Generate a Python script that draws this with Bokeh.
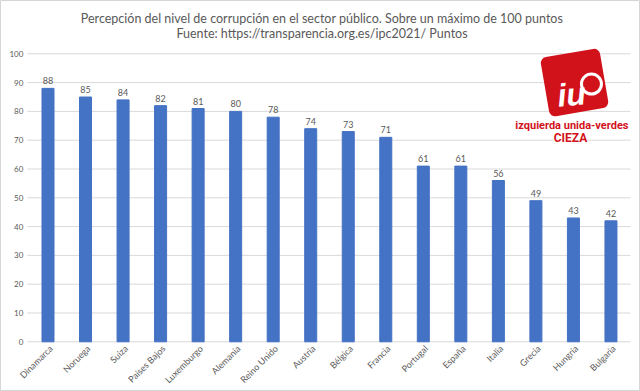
import math
from bokeh.plotting import figure
from bokeh.models import Label, ColumnDataSource, Range1d
from bokeh.core.properties import value
from bokeh.embed import file_html
from bokeh.resources import INLINE

paises = ["Dinamarca", "Noruega", "Suiza", "Países Bajos", "Luxemburgo", "Alemania",
          "Reino Unido", "Austria", "Bélgica", "Francia", "Portugal", "España",
          "Italia", "Grecia", "Hungría", "Bulgaria"]
puntos = [88, 85, 84, 82, 81, 80, 78, 74, 73, 71, 61, 61, 56, 49, 43, 42]
y_ticks = [0, 10, 20, 30, 40, 50, 60, 70, 80, 90, 100]

titulo1 = "Percepción del nivel de corrupción en el sector público. Sobre un máximo de 100 puntos"
titulo2 = "Fuente: https://transparencia.org.es/ipc2021/ Puntos"
logo_txt1 = "izquierda unida-verdes"
logo_txt2 = "CIEZA"

FONT = "Lato"
GRAY = "#595959"
BLUE = "#4472C4"
RED = "#D2121B"
COND = "Roboto"

# category positions (one slot per country)
pos = list(range(len(paises)))

p = figure(width=640, height=391, output_backend="svg", toolbar_location=None,
           x_axis_location=None, y_axis_location=None,
           x_range=Range1d(-1.2657, 15.787), y_range=Range1d(-17.26, 118.51),
           min_border=0, min_border_left=0, min_border_right=0,
           min_border_top=0, min_border_bottom=0)
p.title = None
p.xgrid.visible = False
p.ygrid.visible = False
p.outline_line_color = "#d6d6d6"

# gridlines and y tick labels
p.segment(x0=[-0.55] * len(y_ticks), x1=[15.52] * len(y_ticks), y0=y_ticks, y1=y_ticks,
          line_color="#d9d9d9", line_width=1)
p.text(x=[-0.55] * len(y_ticks), y=y_ticks, text=[str(t) for t in y_ticks],
       text_align="right", text_baseline="middle", x_offset=-4,
       text_font=value(FONT), text_font_size="8px", text_color=GRAY)

# titles
p.text(x=[7.30], y=[112.26], text=[titulo1], text_align="center", text_baseline="middle",
       text_font=value(FONT), text_font_size="12.5px", text_color=GRAY)
p.text(x=[7.30], y=[107.05], text=[titulo2], text_align="center", text_baseline="middle",
       text_font=value(FONT), text_font_size="12.5px", text_color=GRAY)

src = ColumnDataSource(dict(pos=pos, pais=paises, puntos=puntos, zero=[0] * len(paises),
                            etiqueta=[str(v) for v in puntos]))

p.vbar(x="pos", top="puntos", width=0.32, color=BLUE, source=src)
p.text(x="pos", y="puntos", text="etiqueta", text_align="center",
       text_baseline="bottom", y_offset=-4, text_font=value(FONT),
       text_font_size="9px", text_color=GRAY, source=src)

# category labels (rotated 45 degrees)
p.text(x="pos", y="zero", text="pais", source=src, angle=math.pi / 4,
       text_align="right", text_baseline="middle", x_offset=3, y_offset=5,
       text_font=value(FONT), text_font_size="9px", text_color=GRAY)

# logo
p.rect(x=[14.03], y=[90.03], width=60, height=60, width_units="screen",
       height_units="screen", angle=0.17, fill_color=RED, line_color=None,
       border_radius=6)
p.scatter(x=[14.48], y=[89.51], size=23, marker="circle", fill_color="white", line_color=None)
p.scatter(x=[14.48], y=[89.51], size=17, marker="circle", fill_color=RED, line_color=None)
p.text(x=[13.95], y=[85.87], text=["iu"], text_align="center", text_baseline="middle",
       text_font=value("Liberation Sans"), text_font_style="bold italic",
       text_font_size="32px", text_color="white", angle=0.1)
p.add_layout(Label(x=13.96, y=75.1, text=logo_txt1, text_align="center",
                   text_baseline="middle", text_font=COND,
                   text_font_style="bold", text_font_size="11px", text_color=RED,
                   background_fill_color="white"))
p.add_layout(Label(x=13.92, y=70.6, text=logo_txt2, text_align="center",
                   text_baseline="middle", text_font=COND,
                   text_font_style="bold", text_font_size="12px", text_color=RED,
                   background_fill_color="white"))

open("out.html", "w").write(file_html(p, INLINE))
